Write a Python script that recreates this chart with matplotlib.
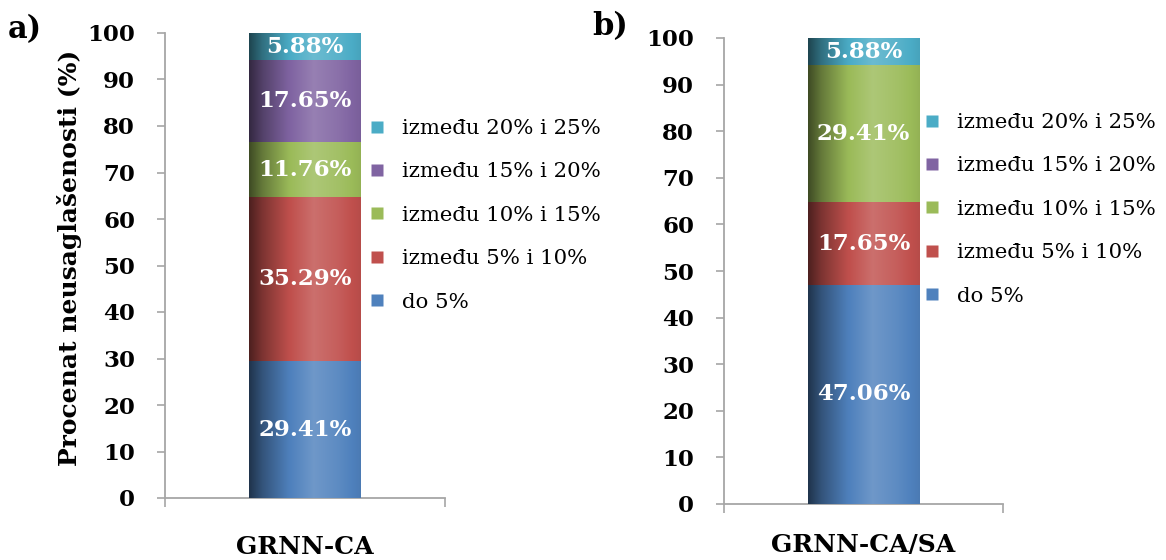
import numpy as np
import matplotlib.pyplot as plt
from matplotlib.lines import Line2D
from matplotlib.colors import to_rgb

# ── data ──────────────────────────────────────────────────────────────────────
classes = ['do 5%', 'između 5% i 10%', 'između 10% i 15%',
           'između 15% i 20%', 'između 20% i 25%']
colors = ['#4F81BD', '#C0504D', '#9BBB59', '#8064A2', '#4BACC6']

model_a = 'GRNN-CA'
vals_a = [29.41, 35.29, 11.76, 17.65, 5.88]

model_b = 'GRNN-CA/SA'
vals_b = [47.06, 17.65, 29.41, 0.0, 5.88]

yticks = list(range(0, 101, 10))

SERIF = 'DejaVu Serif'
GRID_C = '#A6A6A6'

fig = plt.figure(figsize=(11.66, 5.6), dpi=100)


def shade(base, t):
    # excel-2007 style cylinder shading: dark left edge, light around 55-60%
    pts = np.array([0.0, 0.12, 0.35, 0.58, 0.8, 1.0])
    amt = np.array([-0.6, -0.35, -0.02, 0.18, 0.08, -0.05])
    a = np.interp(t, pts, amt)[:, None]
    c = np.array(to_rgb(base))[None, :]
    light = c + (1 - c) * np.clip(a, 0, None)
    dark = c * (1 + np.clip(a, None, 0))
    return np.where(a >= 0, light, dark)


def panel(rect, model, vals, legend_xy, xpad, do_label):
    ax = fig.add_axes(rect)
    bottoms = np.concatenate([[0], np.cumsum(vals)[:-1]])
    bars = ax.bar([0] * len(vals), vals, width=0.4, bottom=bottoms,
                  color=colors, edgecolor='none', zorder=2)

    t = np.linspace(0, 1, 200)
    for patch, col in zip(bars.patches, colors):
        h = patch.get_height()
        if h <= 0:
            continue
        x0, y0, w = patch.get_x(), patch.get_y(), patch.get_width()
        img = shade(col, t)[None, :, :]
        im = ax.imshow(img, extent=[x0, x0 + w, y0, y0 + h], aspect='auto',
                       interpolation='bilinear', zorder=3)
        im.set_clip_path(patch)

    for v, b in zip(vals, bottoms):
        if v <= 0:
            continue
        ax.text(0, b + v / 2, f'{v:.2f}%', ha='center', va='center',
                color='white', fontsize=16.5, fontweight='bold',
                family=SERIF, zorder=4)

    ax.set_xlim(-0.5, 0.5)
    ax.set_ylim(0, 100)
    ax.set_yticks(yticks)
    ax.set_xticks([0])
    ax.set_xticklabels([model])
    ax.set_xticks([-0.5, 0.5], minor=True)
    for s in ['top', 'right']:
        ax.spines[s].set_visible(False)
    for s in ['left', 'bottom']:
        ax.spines[s].set_color(GRID_C)
        ax.spines[s].set_linewidth(1.3)
    ax.tick_params(axis='y', length=5.5, width=1.2, color=GRID_C, pad=16,
                   labelsize=16.5)
    ax.tick_params(axis='x', which='major', length=0, pad=xpad, labelsize=18)
    ax.tick_params(axis='x', which='minor', length=6.5, width=1.2,
                   color=GRID_C)
    for lab in ax.get_yticklabels() + ax.get_xticklabels():
        lab.set_fontweight('bold')
        lab.set_family(SERIF)

    handles = [Line2D([], [], marker='s', linestyle='none', markersize=8.5,
                      markerfacecolor=c, markeredgecolor='none')
               for c in colors]
    ax.legend(handles[::-1], classes[::-1], loc='upper left',
              bbox_to_anchor=legend_xy, bbox_transform=fig.transFigure,
              frameon=False, borderpad=0, borderaxespad=0, handlelength=0.8,
              handletextpad=0.8, labelspacing=1.15,
              prop={'family': SERIF, 'size': 15.3})

    if do_label:
        ax.set_ylabel('Procenat neusaglašenosti (%)', fontsize=18,
                      fontweight='bold', family=SERIF)
    return ax


W, H = 1166, 560
ax_a = panel([165 / W, 1 - 498 / H, 280 / W, 465 / H], model_a, vals_a,
             (368 / W, 1 - 119 / H), 27, True)
ax_a.yaxis.set_label_coords(82 / W, 1 - 258 / H, transform=fig.transFigure)
ax_b = panel([724 / W, 1 - 504 / H, 279 / W, 466 / H], model_b, vals_b,
             (923 / W, 1 - 113 / H), 21, False)

fig.text(25 / W, 1 - 30 / H, 'a)', ha='center', va='center', fontsize=22,
         fontweight='bold', family=SERIF)
fig.text(610 / W, 1 - 27 / H, 'b)', ha='center', va='center', fontsize=22,
         fontweight='bold', family=SERIF)

fig.savefig('out.png', dpi=100)
